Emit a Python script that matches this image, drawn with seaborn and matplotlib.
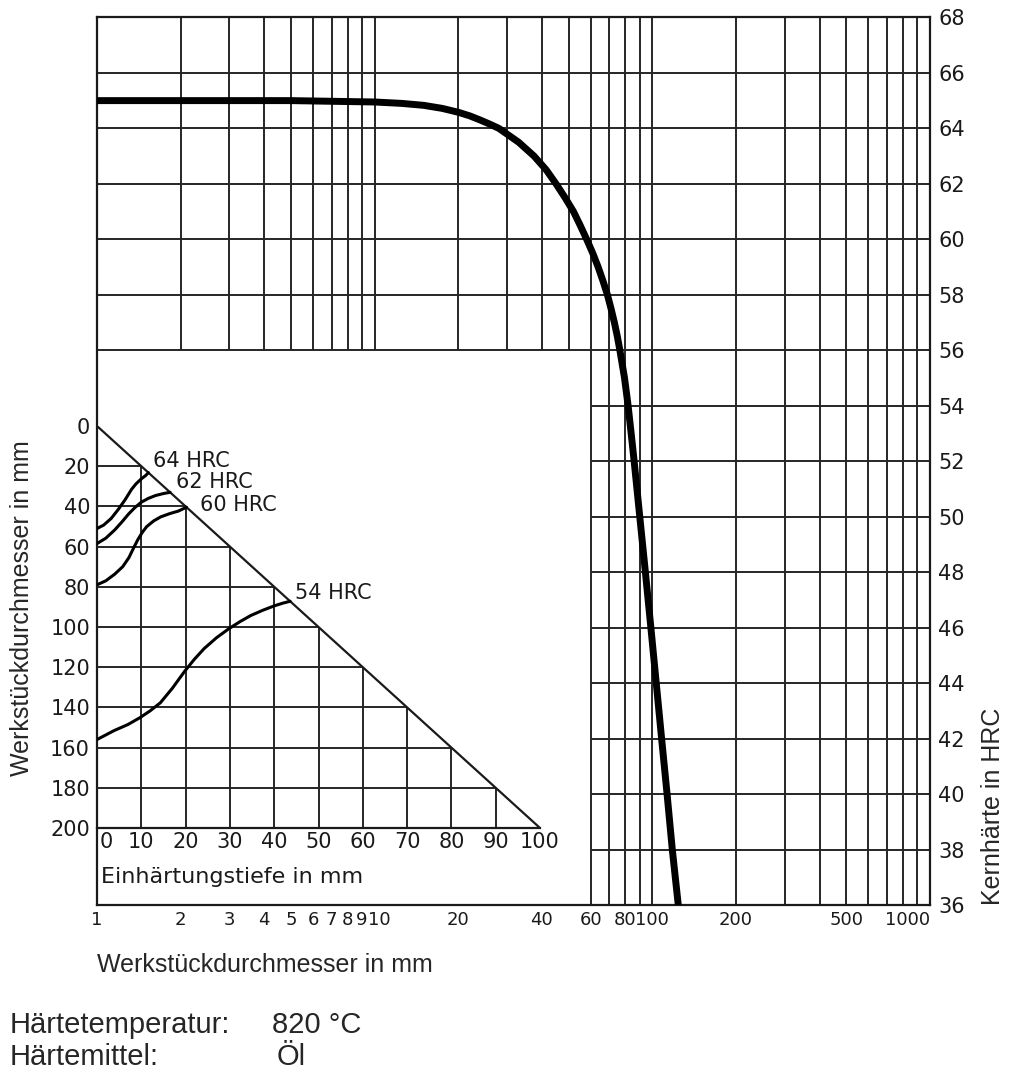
import pandas as pd
import seaborn as sns
import matplotlib.pyplot as plt
from matplotlib import transforms

# Main curve: core hardness (HRC) vs. workpiece diameter (mm, log scale)
diameter_mm = [1, 5, 10, 12.5, 15, 17.5, 20, 22, 24, 26, 28, 33, 37.5, 41.5, 45,
               48.5, 52, 55, 58, 61, 63.8, 66.4, 68.9, 71, 73, 74.8, 76.4, 79.4,
               81.8, 83.9, 86, 90.1, 94.4, 98.8, 103.3, 108, 113, 118, 124]
core_hrc = [65.0, 65.0, 64.95, 64.9, 64.83, 64.72, 64.58, 64.45, 64.3, 64.15,
            64.0, 63.5, 63.0, 62.5, 62.0, 61.5, 61.0, 60.5, 60.0, 59.5, 59.0,
            58.5, 58.0, 57.5, 57.0, 56.5, 56.0, 55.0, 54.0, 53.0, 52.0, 50.0,
            48.0, 46.0, 44.0, 42.0, 40.0, 38.0, 36.0]

# Inset: hardening depth (mm) vs. workpiece diameter (mm)
hrc64_depth = [0, 1.5, 3.2, 4.8, 6.4, 7.8, 8.8, 10, 11, 11.6]
hrc64_diam = [51, 49.3, 46, 41.5, 36.5, 31.5, 28.8, 26.3, 24.6, 23.2]
hrc62_depth = [0, 2, 4, 5.6, 7.2, 8.6, 10, 11.6, 13.2, 15, 16.5]
hrc62_diam = [58.5, 55.8, 51.7, 47.8, 43.6, 40.5, 37.9, 36, 34.6, 33.6, 33]
hrc60_depth = [0, 2, 4, 5.8, 7.2, 8.3, 9.2, 10.2, 11.2, 12.8, 14.4, 16.4, 18.4, 20.2]
hrc60_diam = [79, 77, 73.7, 70, 65.5, 60.5, 56.6, 53, 50.1, 47.2, 45.2, 43.6, 42.3, 40.4]
hrc54_depth = [0, 3.8, 7, 9.7, 12, 14.3, 17, 19.8, 22, 24.2, 27, 29.8, 32.3,
               34.7, 37.5, 40, 42, 43.6]
hrc54_diam = [156, 151.6, 148.5, 145.1, 141.7, 137.7, 130.5, 122, 116, 110.7,
              105.3, 100.8, 97.3, 94.3, 91.6, 89.5, 88.1, 87.2]
inset_labels = ["64 HRC", "62 HRC", "60 HRC", "54 HRC"]
label_depth = [12.6, 17.8, 23.3, 44.7]
label_diam = [17.5, 28.0, 39.3, 83.0]

# Triangle edge of the inset
edge_depth = [0, 100]
edge_diam = [0, 200]

# Tick labels
main_xticks = [1, 2, 3, 4, 5, 6, 7, 8, 9, 10, 20, 40, 60, 80, 100, 200, 500, 1000]
main_xticks_minor = [30, 50]
hrc_ticks = list(range(36, 69, 2))
depth_ticks = list(range(0, 101, 10))
diam_ticks = list(range(0, 201, 20))

sns.set_style("white")
plt.rcParams["font.family"] = ["DejaVu Sans"]
ink = "#1a1a1a"
grid_kw = dict(color="#262626", linewidth=1.4, zorder=1)
label_font = ["Liberation Sans", "DejaVu Sans"]

fig = plt.figure(figsize=(10.24, 10.81), dpi=100)
ax = fig.add_axes([97 / 1024, 1 - 905 / 1081, 833 / 1024, 887.6 / 1081])
ax.set_xscale("log")
ax.set_xlim(1, 1000)
ax.set_ylim(36, 68)

# Log grid, left out in the lower left part where the inset sits
log_grid = [m * 10 ** e for e in range(3) for m in range(1, 10)] + [1000]
for gx in log_grid:
    if gx >= 60:
        ax.vlines(gx, 36, 68, **grid_kw)
    else:
        ax.vlines(gx, 56, 68, **grid_kw)
for gy in hrc_ticks:
    if gy >= 56:
        ax.hlines(gy, 1, 1000, **grid_kw)
    else:
        ax.hlines(gy, 60, 1000, **grid_kw)

sns.lineplot(x=diameter_mm, y=core_hrc, ax=ax, color="black", linewidth=5,
             sort=False, estimator=None, zorder=3)

for side in ["left", "right", "top", "bottom"]:
    ax.spines[side].set_color(ink)
    ax.spines[side].set_linewidth(1.6)

ax.yaxis.tick_right()
ax.set_yticks(hrc_ticks)
ax.set_yticklabels([str(t) for t in hrc_ticks])
ax.tick_params(axis="y", length=0, pad=6, labelsize=15, labelcolor=ink)
ax.set_xticks(main_xticks)
ax.set_xticklabels([str(t) for t in main_xticks])
ax.set_xticks(main_xticks_minor, minor=True)
ax.set_xticklabels([], minor=True)
ax.tick_params(axis="x", which="both", direction="in", length=7, width=1.3,
               color=ink, pad=4, labelsize=13, labelcolor=ink)
xlabels = ax.get_xticklabels()
xlabels[-1].set_horizontalalignment("right")
xlabels[9].set_transform(xlabels[9].get_transform() +
                         transforms.ScaledTranslation(0.05, 0, fig.dpi_scale_trans))
ax.set_xlabel("")
ax.set_ylabel("")

# Inset chart
ax_in = fig.add_axes([97 / 1024, 1 - 828 / 1081, 443 / 1024, 402 / 1081])
ax_in.set_xlim(0, 100)
ax_in.set_ylim(200, 0)
ax_in.patch.set_alpha(0)
for side in ["left", "right", "top"]:
    ax_in.spines[side].set_visible(False)
ax_in.spines["bottom"].set_color(ink)
ax_in.spines["bottom"].set_linewidth(1.6)

for gx in depth_ticks[1:-1]:
    ax_in.vlines(gx, 2 * gx, 200, **grid_kw)
for gy in diam_ticks[1:-1]:
    ax_in.hlines(gy, 0, gy / 2, **grid_kw)

sns.lineplot(x=edge_depth, y=edge_diam, ax=ax_in, color=ink, linewidth=1.6,
             sort=False, estimator=None, zorder=2)

curves = [(hrc64_depth, hrc64_diam), (hrc62_depth, hrc62_diam),
          (hrc60_depth, hrc60_diam), (hrc54_depth, hrc54_diam)]
for depth, diam in curves:
    sns.lineplot(x=depth, y=diam, ax=ax_in, color="black", linewidth=2.2,
                 sort=False, estimator=None, zorder=3)

for txt, lx, ly in zip(inset_labels, label_depth, label_diam):
    ax_in.text(lx, ly, txt, ha="left", va="center", fontsize=15, color=ink)

ax_in.set_xticks(depth_ticks)
ax_in.set_xticklabels([str(t) for t in depth_ticks])
ax_in.set_yticks(diam_ticks)
ax_in.set_yticklabels([str(t) for t in diam_ticks])
ax_in.tick_params(axis="x", length=0, pad=3, labelsize=15, labelcolor=ink)
ax_in.tick_params(axis="y", length=0, pad=5, labelsize=15, labelcolor=ink)
zero_label = ax_in.get_xticklabels()[0]
zero_label.set_transform(zero_label.get_transform() +
                         transforms.ScaledTranslation(0.09, 0, fig.dpi_scale_trans))
ax_in.set_xlabel("")
ax_in.set_ylabel("")
ax_in.text(0.01, -0.122, "Einhärtungstiefe in mm", transform=ax_in.transAxes,
           ha="left", va="center", fontsize=16, color=ink)

# Axis titles and notes
fig.text(22 / 1024, 1 - 608 / 1081, "Werkstückdurchmesser in mm", rotation=90,
         ha="center", va="center", fontsize=18, family=label_font)
fig.text(993 / 1024, 1 - 905 / 1081, "Kernhärte in HRC", rotation=90,
         ha="center", va="bottom", fontsize=18, family=label_font)
fig.text(97 / 1024, 1 - 965 / 1081, "Werkstückdurchmesser in mm",
         ha="left", va="center", fontsize=18, family=label_font)
fig.text(10 / 1024, 1 - 1025 / 1081, "Härtetemperatur:",
         ha="left", va="center", fontsize=21, family=label_font)
fig.text(272 / 1024, 1 - 1025 / 1081, "820 °C",
         ha="left", va="center", fontsize=21, family=label_font)
fig.text(10 / 1024, 1 - 1057 / 1081, "Härtemittel:",
         ha="left", va="center", fontsize=21, family=label_font)
fig.text(277 / 1024, 1 - 1057 / 1081, "Öl",
         ha="left", va="center", fontsize=21, family=label_font)

plt.savefig("out.png", dpi=100)
